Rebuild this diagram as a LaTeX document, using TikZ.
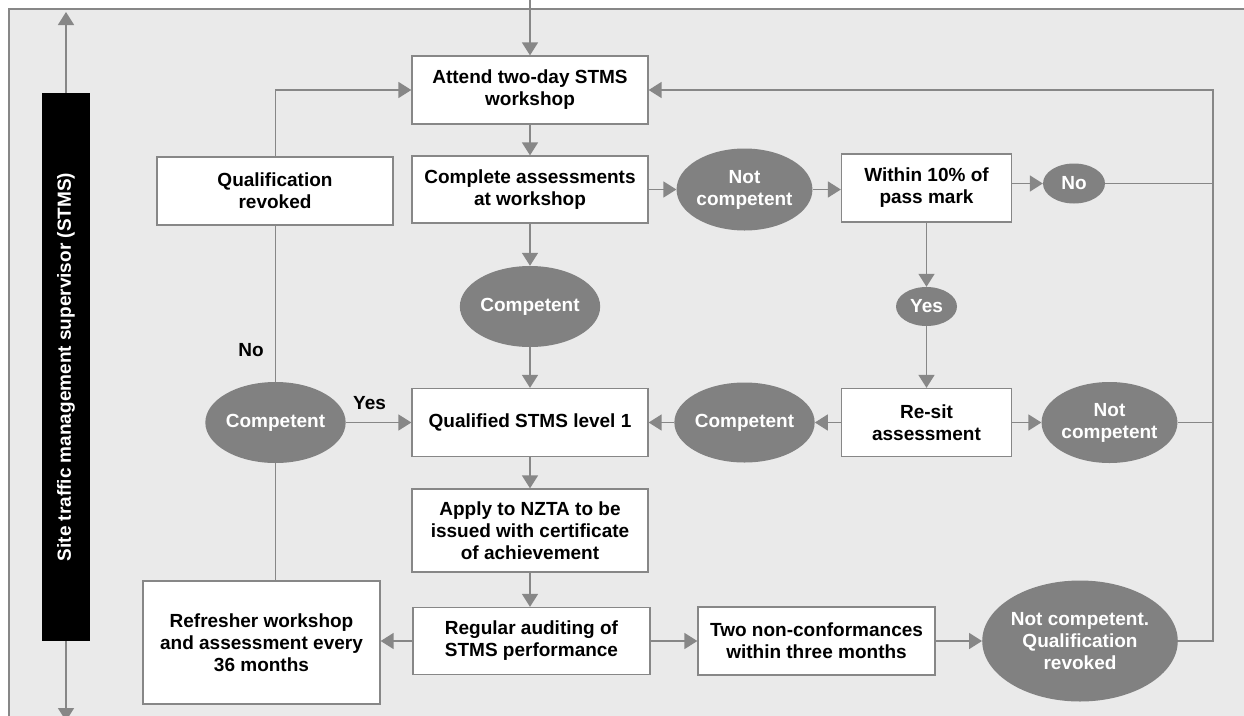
\documentclass[tikz,border=0pt]{standalone}
\usepackage{fontspec}
\setmainfont{Liberation Sans}
\usetikzlibrary{arrows.meta,shapes.geometric,calc}
\definecolor{bgc}{HTML}{EAEAEA}
\definecolor{linec}{HTML}{878787}
\definecolor{ellc}{HTML}{818181}
\begin{document}
\begin{tikzpicture}[x=1pt,y=-1pt,
  every node/.style={font=\fontsize{19}{22}\selectfont\bfseries, align=center, inner sep=0pt},
  box/.style={draw=linec, line width=1.3pt, fill=white, rectangle},
  oval/.style={ellipse, fill=ellc, text=white},
  conn/.style={draw=linec, line width=1.6pt},
  arr/.style={conn, -{Triangle[length=13pt,width=16pt]}},
  lbl/.style={text=black}]
\useasboundingbox (0,0) rectangle (1244,715);
\clip (0,0) rectangle (1244,715);
\fill[white] (0,0) rectangle (1244,715);
\draw[fill=bgc, draw=linec, line width=1.3pt] (9,9) rectangle (1260,730);

% side bar
\node[fill=black, minimum width=48pt, minimum height=548pt] (bar) at (66,367) {};
\node[text=white, rotate=90] (bartext) at (66,367) {Site traffic management supervisor (STMS)};
\coordinate (barup) at (66,12);
\coordinate (bardown) at (66,721);
\draw[arr] (bar.north) -- (barup);
\draw[arr] (bar.south) -- (bardown);

% boxes
\node[box, minimum width=236pt, minimum height=68pt] (attend) at (530,90) {Attend two-day STMS\\workshop};
\node[box, minimum width=236pt, minimum height=67pt] (complete) at (530,189.5) {Complete assessments\\at workshop};
\node[box, minimum width=236pt, minimum height=68pt] (qualrev) at (275,191) {Qualification\\revoked};
\node[box, minimum width=170pt, minimum height=68pt] (within) at (926.5,188) {Within 10\% of\\pass mark};
\node[box, minimum width=170pt, minimum height=68pt] (resit) at (926.5,422.5) {Re-sit\\assessment};
\node[box, minimum width=236pt, minimum height=68pt] (qual1) at (530,422.5) {Qualified STMS level 1};
\node[box, minimum width=236pt, minimum height=83pt] (apply) at (530,530.5) {Apply to NZTA to be\\issued with certificate\\of achievement};
\node[box, minimum width=237pt, minimum height=67pt] (regular) at (531.5,641) {Regular auditing of\\STMS performance};
\node[box, minimum width=237pt, minimum height=68pt] (two) at (816.5,641) {Two non-conformances\\within three months};
\node[box, minimum width=237pt, minimum height=123pt] (refresher) at (261.5,642.5) {Refresher workshop\\and assessment every\\36 months};

% ellipses
\node[oval, minimum width=127pt, minimum height=82pt] (nc1) at (744.5,189.5) {Not\\competent};
\node[oval, minimum width=126pt, minimum height=81pt] (comp1) at (530,306.5) {Competent};
\node[oval, minimum width=62pt, minimum height=40pt] (no) at (1074,183.5) {No};
\node[oval, minimum width=61pt, minimum height=39pt] (yes) at (926.5,306.5) {Yes};
\node[oval, minimum width=127pt, minimum height=80pt] (comp2) at (744.5,422.5) {Competent};
\node[oval, minimum width=127pt, minimum height=81pt] (nc2) at (1109.5,422.5) {Not\\competent};
\node[oval, minimum width=186pt, minimum height=121pt] (ncqr) at (1080,641) {Not competent.\\Qualification\\revoked};
\node[oval, minimum width=127pt, minimum height=81pt] (comp3) at (275.5,422.5) {Competent};

% labels
\node[lbl] (nolbl) at (251,350) {No};
\node[lbl] (yeslbl) at (369.5,403) {Yes};

% connectors
\coordinate (topin) at (530,0);
\coordinate (rtop) at (1213,90);
\draw[arr] (topin) -- (attend.north);
\draw[arr] (attend) -- (complete);
\draw[arr] (complete.east) -- (nc1.west);
\draw[arr] (nc1.east) -- (within.west |- nc1.east);
\draw[arr] (within.east |- no.west) -- (no.west);
\draw[conn] (no.east) -- (no.east -| rtop);
\draw[arr] (within) -- (yes);
\draw[arr] (yes) -- (resit);
\draw[arr] (resit) -- (nc2);
\draw[conn] (nc2.east) -- (nc2.east -| rtop);
\draw[arr] (resit) -- (comp2);
\draw[arr] (comp2) -- (qual1);
\draw[arr] (complete) -- (comp1);
\draw[arr] (comp1) -- (qual1);
\draw[arr] (qual1) -- (apply);
\draw[arr] (apply) -- (regular.north -| apply.south);
\draw[arr] (regular) -- (two);
\draw[arr] (two) -- (ncqr);
\draw[arr] (ncqr.east) -| (rtop) -- (attend.east);
\draw[arr] (regular.west) -- (refresher.east |- regular.west);
\draw[conn] (comp3.south) -- (comp3.south |- refresher.north);
\draw[conn] (comp3.north) -- (qualrev.south -| comp3.north);
\draw[arr] (qualrev.north -| comp3.north) |- (attend.west);
\draw[arr] (comp3) -- (qual1);
\end{tikzpicture}
\end{document}
